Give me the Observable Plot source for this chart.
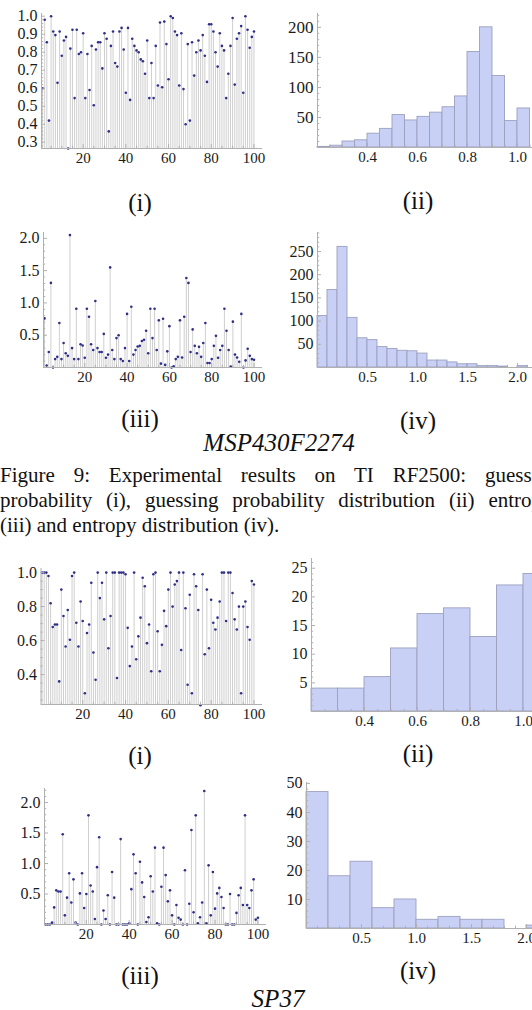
<!DOCTYPE html>
<html>
<head>
<meta charset="utf-8">
<script src="https://cdn.jsdelivr.net/npm/d3@7"></script>
<script src="https://cdn.jsdelivr.net/npm/@observablehq/plot@0.6"></script>
<style>
  html, body { margin:0; padding:0; background:#fff; overflow:hidden; }
  #page { position:relative; width:532px; height:1010px; overflow:hidden; font-family:"Liberation Serif","Times New Roman",serif; color:#111; }
  .t { position:absolute; white-space:nowrap; line-height:1; }
  .c { transform:translate(-50%,-50%); }
</style>
</head>
<body>
<div id="page">
  <div class="t c" style="left:140px;top:202px;font-size:25px">(i)</div>
  <div class="t c" style="left:418px;top:200px;font-size:25px">(ii)</div>
  <div class="t c" style="left:140px;top:418px;font-size:25px">(iii)</div>
  <div class="t c" style="left:418px;top:420px;font-size:25px">(iv)</div>
  <div class="t c" style="left:279px;top:442px;font-size:25px;font-style:italic">MSP430F2274</div>
  <div class="t" style="left:0px;top:465px;font-size:21px;word-spacing:13.6px">Figure 9: Experimental results on TI RF2500: guessing</div>
  <div class="t" style="left:0px;top:490px;font-size:21px;word-spacing:8.6px">probability (i), guessing probability distribution (ii) entropy</div>
  <div class="t" style="left:0px;top:515px;font-size:21px">(iii) and entropy distribution (iv).</div>
  <div class="t c" style="left:140px;top:755px;font-size:25px">(i)</div>
  <div class="t c" style="left:418px;top:753px;font-size:25px">(ii)</div>
  <div class="t c" style="left:140px;top:975px;font-size:25px">(iii)</div>
  <div class="t c" style="left:418px;top:970px;font-size:25px">(iv)</div>
  <div class="t c" style="left:278px;top:998px;font-size:25px;font-style:italic">SP37</div>
</div>
<script>
// ---------------- data ----------------
const indexTicks = [20, 40, 60, 80, 100];

const mspGuessProb = [
  0.60,0.98,0.855,0.42,1.0,0.915,0.895,0.63,0.915,0.78,
  0.865,0.885,0.265,0.82,0.925,0.545,0.925,0.79,0.80,0.905,
  0.545,0.79,0.59,0.835,0.505,0.815,0.855,0.855,0.71,0.905,
  0.875,0.36,0.835,0.915,0.74,0.72,0.915,0.935,0.815,0.575,
  0.935,0.535,0.875,0.835,0.81,0.80,0.76,0.75,0.68,0.865,
  0.545,0.74,0.545,0.835,0.615,0.965,0.605,0.97,0.845,0.65,
  1.0,0.99,0.915,0.895,0.615,0.905,0.595,0.40,0.845,0.42,
  0.855,0.67,0.80,0.865,0.81,0.895,0.78,0.635,0.955,0.955,
  0.915,0.80,0.72,0.905,0.835,0.81,0.545,0.68,0.835,0.99,
  0.62,0.875,0.905,0.945,0.575,1.0,0.925,0.825,0.885,0.915];

const mspEntropy = [
  0.76,0.03,0.24,1.31,0.0,0.13,0.165,0.69,0.13,0.38,
  0.22,0.18,2.05,0.30,0.13,0.91,0.13,0.36,0.34,0.15,
  0.91,0.785,0.36,0.27,1.03,0.30,0.24,0.24,0.52,0.15,
  0.20,1.55,0.27,0.13,0.455,0.50,0.13,0.10,0.30,0.83,
  0.10,0.94,0.20,0.27,0.325,0.335,0.41,0.43,0.57,0.22,
  0.91,0.455,0.91,0.27,0.73,0.06,0.755,0.04,0.25,0.64,
  0.0,0.02,0.13,0.165,0.73,0.155,0.785,1.385,1.31,0.24,
  0.59,0.335,0.22,0.32,0.165,0.38,0.69,0.07,0.07,0.13,
  0.335,0.49,0.15,0.27,0.335,0.91,0.57,0.27,0.015,0.71,
  0.20,0.155,0.09,0.83,0.0,0.11,0.29,0.18,0.13,0.12];

const mspGuessBinLo = [0.20,0.25,0.30,0.35,0.40,0.45,0.50,0.55,0.60,0.65,0.70,0.75,0.80,0.85,0.90,0.95,1.00];
const mspGuessBinWidth = 0.05;
const mspGuessBinCount = [1,3,10,12,23,31,54,45,51,58,67,85,159,200,119,44,65];

const mspEntropyBinLo = [0.0,0.1,0.2,0.3,0.4,0.5,0.6,0.7,0.8,0.9,1.0,1.1,1.2,1.3,1.4,1.5,1.6,1.7,1.8,1.9,2.0];
const mspEntropyBinWidth = 0.1;
const mspEntropyBinCount = [111,167,260,107,63,59,44,40,36,35,30,15,15,11,7,7,3,3,2,0,3];

const sp37GuessProb = [
  1.0,1.0,1.0,0.98,0.82,0.68,0.695,0.695,0.36,0.90,
  0.745,0.565,0.78,0.605,0.98,1.0,0.705,0.565,0.83,0.715,
  0.29,0.645,0.695,0.94,0.53,0.37,1.0,0.85,0.94,0.725,
  1.0,0.555,0.745,1.0,1.0,0.38,1.0,1.0,1.0,0.99,
  0.675,0.45,0.565,1.0,0.49,0.625,0.735,0.97,0.92,0.585,
  0.695,0.42,0.99,1.0,0.655,0.42,0.575,0.775,0.685,0.90,
  1.0,0.80,0.93,0.95,1.0,0.545,1.0,0.79,0.34,0.87,
  0.29,0.99,0.92,0.78,0.22,0.99,0.52,0.90,0.555,0.84,
  0.705,0.665,0.735,0.83,1.0,1.0,0.715,1.0,1.0,0.88,
  0.725,0.665,0.80,0.29,0.80,0.83,0.68,0.605,0.95,0.93];

const sp37Entropy = [
  0,0,0,0.03,0.28,0.56,0.54,0.54,1.48,0.15,
  0.44,0.84,0.36,0.74,0.03,0,0.51,0.84,0.27,0.50,
  1.79,0.64,0.54,0.09,0.94,1.43,0,0.23,0.09,0.48,
  0,0.86,0.44,0,0,1.40,0,0,0,0.02,
  0.58,1.15,0.84,0,1.03,0.69,0.45,0.04,0.12,0.79,
  0.54,1.26,0.02,0,0.62,1.26,0.81,0.38,0.56,0.15,
  0,0.32,0.11,0.08,0,0.89,0,0.34,1.55,0.20,
  1.79,0.02,0.12,0.36,2.19,0.02,0.97,0.15,0.86,0.26,
  0.51,0.60,0.45,0.27,0,0,0.50,0,0,0.19,
  0.48,0.60,0.32,1.79,0.32,0.27,0.56,0.74,0.08,0.11];

const sp37GuessBinLo = [0.2,0.3,0.4,0.5,0.6,0.7,0.8,0.9,1.0];
const sp37GuessBinWidth = 0.1;
const sp37GuessBinCount = [4,4,6,11,17,18,13,22,24];

const sp37EntropyBinLo = [0.0,0.2,0.4,0.6,0.8,1.0,1.2,1.4,1.6,1.8,2.0];
const sp37EntropyBinWidth = 0.2;
const sp37EntropyBinCount = [47,18,23,7,10,3,4,3,3,0,1];

const mspProbYTicks = [0.3,0.4,0.5,0.6,0.7,0.8,0.9,1.0];
const mspProbHistXTicks = [0.4,0.6,0.8,1.0];
const mspProbHistYTicks = [50,100,150,200];
const mspEntYTicks = [0.5,1.0,1.5,2.0];
const mspEntHistXTicks = [0.5,1.0,1.5,2.0];
const mspEntHistYTicks = [50,100,150,200,250];
const sp37ProbYTicks = [0.4,0.6,0.8,1.0];
const sp37ProbHistXTicks = [0.4,0.6,0.8,1.0];
const sp37ProbHistYTicks = [5,10,15,20,25];
const sp37EntYTicks = [0.5,1.0,1.5,2.0];
const sp37EntHistXTicks = [0.5,1.0,1.5,2.0];
const sp37EntHistYTicks = [10,20,30,40,50];

// ---------------- drawing ----------------
const page = document.getElementById("page");
const AX = "#b0b0b0", LBL = "#1a1a1a", STEM = "#cfcfcf", DOT = "#2f2f88", FILL = "#c9d0f5", EDGE = "#9ca1bf";
const FONT = "'Liberation Serif','Times New Roman',serif";
const f1 = d3.format(".1f"), f0 = d => String(d);

function minorTicks(lo, hi, step, majors) {
  const out = [];
  for (let k = Math.ceil(lo / step - 1e-9); k * step <= hi + 1e-9; k++) {
    const v = +(k * step).toFixed(6);
    if (!majors.some(m => Math.abs(m - v) < 1e-9)) out.push(v);
  }
  return out;
}

function dotMarks(values, y0) {
  const data = values.map((v, k) => ({i: k + 1, v}));
  return [
    Plot.ruleX(data, {x: "i", y1: y0, y2: "v", stroke: STEM, strokeWidth: 1}),
    Plot.dot(data, {x: "i", y: "v", r: 1.3, fill: DOT, stroke: "none"})
  ];
}

function histMarks(lo, width, counts) {
  const data = lo.map((l, k) => ({lo: l, hi: l + width, n: counts[k]})).filter(d => d.n > 0);
  return [Plot.rect(data, {x1: "lo", x2: "hi", y1: 0, y2: "n", fill: FILL, stroke: EDGE, strokeWidth: 0.9})];
}

function panel(o) {
  const sy = o.t - 12, H = o.b - sy + 34, W = o.W;
  const [x0, x1] = o.xDomain, [y0, y1] = o.yDomain;
  const ux = (x1 - x0) / (o.r - o.l), uy = (y1 - y0) / (o.b - o.t);
  const xMinor = minorTicks(x0, x1, o.xMinorStep, o.xTicks);
  const yMinor = minorTicks(y0, y1, o.yMinorStep, o.yTicks);
  const svg = Plot.plot({
    width: W, height: H,
    marginLeft: o.l - o.sx, marginRight: o.sx + W - o.r,
    marginTop: o.t - sy, marginBottom: sy + H - o.b,
    x: {domain: o.xDomain, label: null},
    y: {domain: o.yDomain, label: null},
    style: {background: "transparent", overflow: "visible", maxWidth: "none", fontFamily: FONT, color: LBL},
    marks: [
      ...o.marks,
      Plot.ruleX([x0], {y1: y0, y2: y1, stroke: AX}),
      Plot.ruleY([y0], {x1: x0, x2: x1, stroke: AX}),
      Plot.ruleX(o.xTicks, {x: d => d, y1: y0, y2: y0 + 4 * uy, stroke: AX}),
      Plot.ruleX(xMinor, {x: d => d, y1: y0, y2: y0 + 2.2 * uy, stroke: AX}),
      Plot.ruleY(o.yTicks, {y: d => d, x1: x0, x2: x0 + 4 * ux, stroke: AX}),
      Plot.ruleY(yMinor, {y: d => d, x1: x0, x2: x0 + 2.2 * ux, stroke: AX}),
      Plot.axisX({ticks: o.xTicks, tickSize: 0, tickPadding: 4, tickFormat: o.xFmt, fontSize: o.xFont, fill: LBL, label: null}),
      Plot.axisY({ticks: o.yTicks, tickSize: 0, tickPadding: 4, tickFormat: o.yFmt, fontSize: o.yFont, fill: LBL, label: null})
    ]
  });
  svg.style.position = "absolute";
  svg.style.left = o.sx + "px";
  svg.style.top = sy + "px";
  page.appendChild(svg);
}

// MSP430F2274 (i)
panel({sx: 0, W: 275, l: 41, r: 262, t: 13, b: 148,
  xDomain: [0.5, 104], yDomain: [0.265, 1.015],
  xTicks: indexTicks, yTicks: mspProbYTicks, xMinorStep: 5, yMinorStep: 0.02,
  xFmt: f0, yFmt: f1, xFont: 15, yFont: 16,
  marks: dotMarks(mspGuessProb, 0.265)});

// MSP430F2274 (ii)
panel({sx: 270, W: 285, l: 317, r: 545, t: 13, b: 147,
  xDomain: [0.2, 0.2 + 228 / 250], yDomain: [0, 223],
  xTicks: mspProbHistXTicks, yTicks: mspProbHistYTicks, xMinorStep: 0.05, yMinorStep: 10,
  xFmt: f1, yFmt: f0, xFont: 15, yFont: 17,
  marks: histMarks(mspGuessBinLo, mspGuessBinWidth, mspGuessBinCount)});

// MSP430F2274 (iii)
panel({sx: 0, W: 275, l: 43, r: 262, t: 232, b: 367,
  xDomain: [0.5, 104], yDomain: [0, 2.09],
  xTicks: indexTicks, yTicks: mspEntYTicks, xMinorStep: 5, yMinorStep: 0.1,
  xFmt: f0, yFmt: f1, xFont: 15, yFont: 16,
  marks: dotMarks(mspEntropy, 0)});

// MSP430F2274 (iv)
panel({sx: 270, W: 290, l: 317, r: 552, t: 232, b: 367,
  xDomain: [0, 2.35], yDomain: [0, 291],
  xTicks: mspEntHistXTicks, yTicks: mspEntHistYTicks, xMinorStep: 0.1, yMinorStep: 10,
  xFmt: f1, yFmt: f0, xFont: 15, yFont: 16,
  marks: histMarks(mspEntropyBinLo, mspEntropyBinWidth, mspEntropyBinCount)});

// SP37 (i)
panel({sx: 0, W: 275, l: 40.5, r: 262, t: 568, b: 704,
  xDomain: [0.5, 104], yDomain: [0.224, 1.024],
  xTicks: indexTicks, yTicks: sp37ProbYTicks, xMinorStep: 5, yMinorStep: 0.05,
  xFmt: f0, yFmt: f1, xFont: 15, yFont: 16,
  marks: dotMarks(sp37GuessProb, 0.224)});

// SP37 (ii)
panel({sx: 270, W: 290, l: 311, r: 551, t: 558, b: 711,
  xDomain: [0.2, 0.2 + 240 / 265], yDomain: [0, 26.7],
  xTicks: sp37ProbHistXTicks, yTicks: sp37ProbHistYTicks, xMinorStep: 0.05, yMinorStep: 1,
  xFmt: f1, yFmt: f0, xFont: 15, yFont: 16,
  marks: histMarks(sp37GuessBinLo, sp37GuessBinWidth, sp37GuessBinCount)});

// SP37 (iii)
panel({sx: 0, W: 280, l: 44, r: 266, t: 788, b: 924,
  xDomain: [0.5, 104], yDomain: [0, 2.23],
  xTicks: indexTicks, yTicks: sp37EntYTicks, xMinorStep: 5, yMinorStep: 0.1,
  xFmt: f0, yFmt: f1, xFont: 15, yFont: 16,
  marks: dotMarks(sp37Entropy, 0)});

// SP37 (iv)
panel({sx: 270, W: 290, l: 306, r: 548, t: 782, b: 928,
  xDomain: [0, 2.2], yDomain: [0, 50.3],
  xTicks: sp37EntHistXTicks, yTicks: sp37EntHistYTicks, xMinorStep: 0.1, yMinorStep: 2,
  xFmt: f1, yFmt: f0, xFont: 15, yFont: 16,
  marks: histMarks(sp37EntropyBinLo, sp37EntropyBinWidth, sp37EntropyBinCount)});
</script>
</body>
</html>
